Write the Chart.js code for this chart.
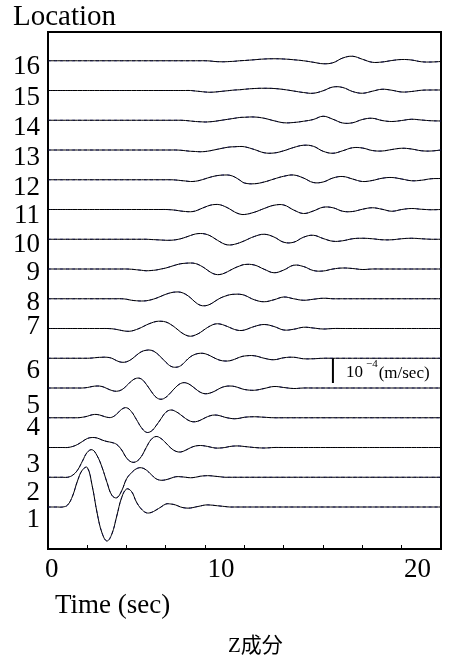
<!DOCTYPE html>
<html>
<head>
<meta charset="utf-8">
<script src="https://cdn.jsdelivr.net/npm/chart.js@4.4.0/dist/chart.umd.min.js"></script>
<style>
  html, body { margin: 0; padding: 0; background: #fff; }
  #wrap { position: relative; width: 454px; height: 659px; }
  #wave { display: block; }
  #caption { position: absolute; left: 228px; top: 633px; font: 21px "Liberation Serif", "Noto Sans CJK JP", serif; line-height: 24px; color: #000; }
</style>
</head>
<body>
<div id="wrap">
  <canvas id="wave" width="454" height="659"></canvas>
  <div id="caption">Z成分</div>
</div>
<script>
// time samples (sec): 0.25 s up to 10 s, then 0.5 s
const TIME = [0,0.25,0.5,0.75,1,1.25,1.5,1.75,2,2.25,2.5,2.75,3,3.25,3.5,3.75,4,4.25,4.5,4.75,5,5.25,5.5,5.75,6,6.25,6.5,6.75,7,7.25,7.5,7.75,8,8.25,8.5,8.75,9,9.25,9.5,9.75,10,
  10.5,11,11.5,12,12.5,13,13.5,14,14.5,15,15.5,16,16.5,17,17.5,18,18.5,19,19.5,20];

// vertical velocity at each location, um/s
const loc1 = [0,0,0,0,8,44,104,148,158,84,-24,-104,-136,-108,-36,38,72,62,20,-8,-23,-22,-12,0,12,12,8,0,-4,-4,0,4,8,8,6,4,2,0,0,0,0,
  0,0,0,0,0, 0,0,0,0,0, 0,0,0,0,0, 0,0,0,0,0];
const loc2 = [0,0,0,0,0,8,28,64,100,110,86,40,-20,-72,-82,-54,-6,18,34,38,29,11,-6,-12,-10,-4,2,2,0,-2,0,4,6,6,4,2,0,0,0,0,0,
  0,0,0,0,0, 0,0,0,0,0, 0,0,0,0,0, 0,0,0,0,0];
const loc3 = [0,0,0,0,0,4,12,24,36,40,38,30,24,20,12,-10,-42,-58,-56,-36,0,32,44,36,18,-2,-15,-18,-11,-1,6,8,6,2,-2,-2,0,4,6,6,4,
  0,-2,0,0,0, 0,0,0,0,0, 0,0,0,0,0, 0,0,0,0,0];
const loc4 = [0,0,0,0,0,0,0,2,6,12,13,8,2,2,15,34,40,24,-7,-39,-58,-54,-32,-4,22,31,25,12,-3,-14,-16,-10,0,8,11,8,2,-2,-4,-2,2,
  4,2,0,0,0, 0,0,0,0,0, 0,0,0,0,0, 0,0,0,0,0];
const loc5 = [0,0,0,0,0,0,0,0,2,6,8,6,-2,-10,-13,-7,9,28,39,36,15,-13,-37,-45,-37,-18,3,18,21,12,-3,-17,-23,-20,-12,-1,6,8,6,0,-6,
  -9,-2,6,2,-2, 0,0,0,0,0, 0,0,0,0,0, 0,0,0,0,0];
const loc6 = [0,0,0,0,0,0,0,0,0,1,3,4,4,0,-10,-16,-14,-4,12,26,32,32,22,4,-16,-32,-36,-30,-12,6,16,20,18,10,0,-8,-11,-10,-4,4,9,
  10,0,-6,2,4, -2,-2,0,0,0, 0,0,0,0,0, 0,0,0,0,0];
const loc7 = [0,0,0,0,0,0,0,0,0,0,0,0,0,-1,-4,-8,-11,-10,-4,4,14,22,28,29,26,16,2,-14,-26,-31,-26,-16,-2,10,18,18,12,4,-4,-8,-6,
  8,16,8,-6,-3, 5,2,-2,0,0, 0,0,0,0,0, 0,0,0,0,0];
const loc8 = [0,0,0,0,0,0,0,0,0,0,0,0,0,0,0,0,-2,-6,-8,-9,-8,-4,2,10,18,24,27,26,18,4,-14,-26,-28,-22,-10,2,10,16,18,18,14,
  -4,-12,-4,7,0, -6,-2,2,0,0, 0,0,0,0,0, 0,0,0,0,0];
const loc9 = [0,0,0,0,0,0,0,0,0,0,0,0,0,0,0,0,0,-1,-3,-5,-7,-6,-4,0,4,10,16,21,23,24,22,14,2,-12,-21,-22,-16,-6,4,12,18,
  16,-1,-15,-4,15, 10,-6,-8,0,4, 2,-2,0,0,0, 0,0,0,0,0];
const loc10 = [0,0,0,0,0,0,0,0,0,0,0,0,0,0,0,0,0,0,0,0,0,-1,-2,-3,-4,-4,-2,2,8,15,21,23,21,14,2,-10,-20,-23,-20,-14,-6,
  11,20,9,-12,-12, 8,16,3,-8,-6, 2,4,2,-2,-2, 2,4,2,0,0];
const loc11 = [0,0,0,0,0,0,0,0,0,0,0,0,0,0,0,0,0,0,0,0,0,0,0,0,0,-1,-3,-6,-8,-9,-6,2,10,17,20,19,12,2,-10,-18,-20,
  -11,4,17,18,-2, -16,-6,9,7,-7, -8,1,7,1,-7, 0,4,1,-1,0];
const loc12 = [0,0,0,0,0,0,0,0,0,0,0,0,0,0,0,0,0,0,0,0,0,0,0,0,0,0,-1,-3,-5,-7,-6,-2,4,10,15,18,19,18,11,-1,-13,
  -16,-9,3,14,19, 7,-11,-9,7,13, 3,-7,-3,6,9, 3,-4,-2,4,5];
const loc13 = [0,0,0,0,0,0,0,0,0,0,0,0,0,0,0,0,0,0,0,0,0,0,0,0,0,0,0,-1,-3,-5,-6,-7,-6,-3,1,5,9,12,13,14,13,
  2,-11,-12,-3,10, 19,15,-5,-13,-3, 9,8,-2,-4,2, 7,4,-3,-4,0];
const loc14 = [0,0,0,0,0,0,0,0,0,0,0,0,0,0,0,0,0,0,0,0,0,0,0,0,0,0,0,0,-1,-3,-5,-6,-7,-6,-4,-1,2,5,8,11,12,
  13,8,-2,-10,-9, -4,3,16,4,-11, -10,3,8,-1,-5, -1,4,1,-2,-3];
const loc15 = [0,0,0,0,0,0,0,0,0,0,0,0,0,0,0,0,0,0,0,0,0,0,0,0,0,0,0,0,0,0,-2,-4,-6,-7,-6,-4,-2,0,2,3,5,
  8,9,8,4,-2, -8,-11,-1,14,12, -4,-11,-3,5,1, -6,-4,1,2,2];
const loc16 = [0,0,0,0,0,0,0,0,0,0,0,0,0,0,0,0,0,0,0,0,0,0,0,0,0,0,0,0,0,0,0,0,0,-1,-3,-4,-4,-3,-2,0,1,
  4,7,8,7,4, 0,-6,-12,-8,11, 18,6,-6,-5,1, 5,3,-4,-5,-3];

const LOCATIONS = [1,2,3,4,5,6,7,8,9,10,11,12,13,14,15,16];
const TRACES = [loc1,loc2,loc3,loc4,loc5,loc6,loc7,loc8,loc9,loc10,loc11,loc12,loc13,loc14,loc15,loc16];
const X_TICK_LABELS = [0, 10, 20];

const GAP = 119;          // offset between traces, um/s
const BAR_LEN = 100;      // scale bar: 1e-4 m/s
const BAR_T = 14.5;
const BAR_BASE = 5 * GAP + 20;

// label sits a little below its trace (px)
const LABEL_DROP = [13, 15.5, 17, 10.5, 17.5, 13, -2, 4, 4, 6, 6, 8.5, 8, 8, 7.5, 6.3];

const datasets = [];
TRACES.forEach((amp, i) => {
  const base = LOCATIONS[i] * GAP;
  const pts = TIME.map((t, j) => ({ x: t, y: base + amp[j] }));
  datasets.push({ data: pts, borderColor: '#000', borderWidth: 1, pointRadius: 0, tension: 0.4 });
  datasets.push({ data: pts, borderColor: 'rgba(35,35,170,0.9)', borderWidth: 1, borderDash: [3, 3], pointRadius: 0, tension: 0.4 });
});
datasets.push({
  data: [{ x: BAR_T, y: BAR_BASE }, { x: BAR_T, y: BAR_BASE + BAR_LEN }],
  borderColor: '#000', borderWidth: 2, pointRadius: 0
});

const serif = 'Liberation Serif';

const extraText = {
  id: 'extraText',
  afterDraw(chart) {
    const ctx = chart.ctx;
    const xs = chart.scales.x, ys = chart.scales.y;
    const area = chart.chartArea;
    ctx.save();
    ctx.fillStyle = '#000';
    // x tick labels
    ctx.font = '27px "' + serif + '"';
    ctx.textBaseline = 'alphabetic';
    X_TICK_LABELS.forEach(v => {
      const px = xs.getPixelForValue(v);
      if (v === 0) { ctx.textAlign = 'left'; ctx.fillText(String(v), px - 3, area.bottom + 28); }
      else { ctx.textAlign = 'right'; ctx.fillText(String(v), px - 10, area.bottom + 28); }
    });
    // axis title
    ctx.textAlign = 'left';
    ctx.fillText('Time (sec)', area.left + 7, area.bottom + 64);
    // scale bar label
    const bx = xs.getPixelForValue(BAR_T);
    const by = ys.getPixelForValue(BAR_BASE);
    ctx.font = '17px "' + serif + '"';
    let x = bx + 13;
    ctx.fillText('10', x, by - 6);
    x += ctx.measureText('10').width + 3;
    ctx.font = '11px "' + serif + '"';
    ctx.fillText('\u22124', x, by - 16);
    x += ctx.measureText('\u22124').width + 1;
    ctx.font = '17px "' + serif + '"';
    ctx.fillText('(m/sec)', x, by - 5);
    ctx.restore();
  }
};

new Chart(document.getElementById('wave'), {
  type: 'line',
  data: { datasets },
  plugins: [extraText],
  options: {
    responsive: false,
    animation: false,
    layout: { padding: { left: 13, right: 13, top: 0, bottom: 40 } },
    font: { family: serif },
    plugins: {
      legend: { display: false },
      tooltip: { enabled: false },
      title: {
        display: true, text: 'Location', align: 'start', color: '#000',
        font: { family: serif, size: 29, weight: 'normal', lineHeight: 1.0 },
        padding: { top: 3, bottom: 0 }
      }
    },
    scales: {
      x: {
        type: 'linear', min: 0, max: 20,
        ticks: { display: false, stepSize: 2 },
        grid: { drawOnChartArea: false, drawTicks: true, tickLength: -4, color: '#000' },
        border: { color: '#000', width: 2 },
        afterFit(s) { s.height = 70; }
      },
      xTop: {
        type: 'linear', position: 'top', min: 0, max: 20,
        ticks: { display: false },
        grid: { display: false, drawTicks: false },
        border: { color: '#000', width: 2 }
      },
      y: {
        type: 'linear', min: -49, max: 2019,
        afterBuildTicks(s) {
          s.ticks = LOCATIONS.map((k, i) => ({ value: k * GAP - LABEL_DROP[i] * 4 }));
        },
        afterFit(s) { s.width = 35; },
        ticks: {
          autoSkip: false, padding: 8, color: '#000',
          font: { family: serif, size: 27 },
          callback: (v, i) => String(LOCATIONS[i])
        },
        grid: { display: false, drawTicks: false },
        border: { color: '#000', width: 2 }
      },
      yRight: {
        type: 'linear', position: 'right', min: -49, max: 2019,
        ticks: { display: false },
        grid: { display: false, drawTicks: false },
        border: { color: '#000', width: 2 }
      }
    }
  }
});
</script>
</body>
</html>
